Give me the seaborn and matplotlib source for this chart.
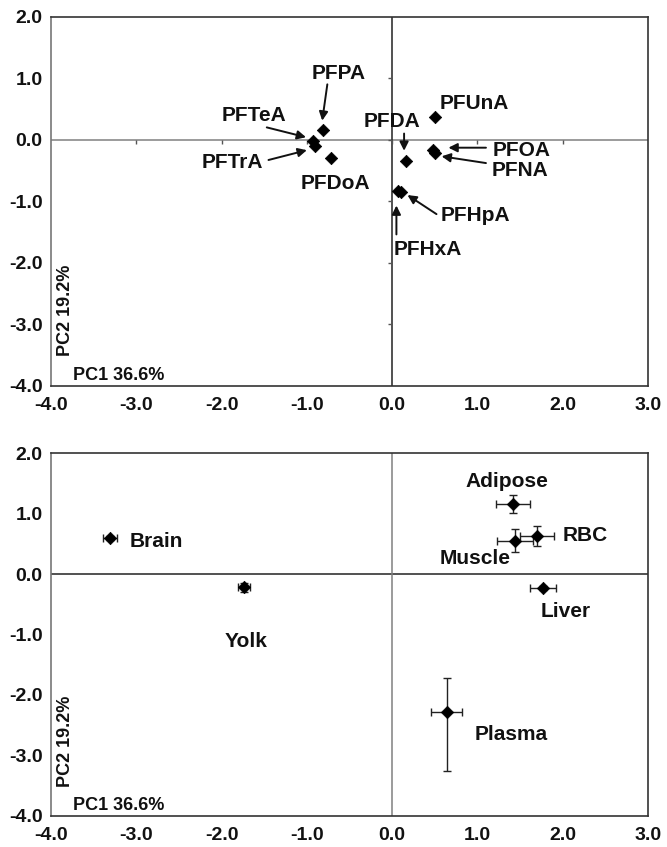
import matplotlib
matplotlib.use("Agg")
import matplotlib.pyplot as plt
import seaborn as sns
import pandas as pd
import numpy as np

# ---------------- data ----------------
pfas_names = ["PFPA", "PFTeA", "PFTrA", "PFDoA", "PFUnA", "PFDA", "PFOA", "PFNA", "PFHpA", "PFHxA"]
pfas_pc1 = [-0.81, -0.93, -0.90, -0.72, 0.50, 0.16, 0.48, 0.50, 0.10, 0.07]
pfas_pc2 = [0.16, -0.02, -0.10, -0.30, 0.37, -0.35, -0.17, -0.22, -0.85, -0.83]

# label centres and arrows (start -> tip) for the loading plot
pfas_label_x = [-0.63, -1.62, -1.87, -0.67, 0.96, 0.00, 1.52, 1.50, 0.98, 0.42]
pfas_label_y = [1.08, 0.40, -0.37, -0.72, 0.59, 0.29, -0.17, -0.50, -1.24, -1.78]
arrow_names = ["PFPA", "PFTeA", "PFTrA", "PFDA", "PFOA", "PFNA", "PFHpA", "PFHxA"]
arrow_x0 = [-0.76, -1.47, -1.45, 0.14, 1.10, 1.10, 0.52, 0.05]
arrow_y0 = [0.90, 0.20, -0.33, 0.10, -0.13, -0.38, -1.21, -1.54]
arrow_x1 = [-0.82, -1.01, -1.00, 0.14, 0.66, 0.58, 0.18, 0.05]
arrow_y1 = [0.31, 0.04, -0.17, -0.18, -0.13, -0.27, -0.90, -1.07]

tissues = ["Brain", "Yolk", "Adipose", "RBC", "Muscle", "Liver", "Plasma"]
tis_pc1 = [-3.31, -1.74, 1.42, 1.70, 1.44, 1.77, 0.64]
tis_pc2 = [0.60, -0.22, 1.16, 0.63, 0.55, -0.23, -2.29]
tis_xerr = [0.08, 0.07, 0.20, 0.20, 0.21, 0.15, 0.18]
tis_yerr_low = [0.03, 0.07, 0.15, 0.16, 0.19, 0.03, 0.97]
tis_yerr_high = [0.03, 0.07, 0.15, 0.16, 0.19, 0.03, 0.57]
tis_label_x = [-2.77, -1.71, 1.35, 2.27, 0.97, 2.03, 1.40]
tis_label_y = [0.54, -1.11, 1.53, 0.63, 0.26, -0.62, -2.65]

ticks_x = [-4.0, -3.0, -2.0, -1.0, 0.0, 1.0, 2.0, 3.0]
ticks_y = [-4.0, -3.0, -2.0, -1.0, 0.0, 1.0, 2.0]

# ---------------- style ----------------
sns.set_style("white")
plt.rcParams["font.family"] = ["Liberation Sans", "DejaVu Sans"]
plt.rcParams["font.weight"] = "bold"
plt.rcParams["axes.unicode_minus"] = False

fig = plt.figure(figsize=(6.67, 8.47), dpi=100)
ax1 = fig.add_axes([0.0765, 0.5446, 0.895, 0.4357])
ax2 = fig.add_axes([0.0765, 0.0370, 0.895, 0.4279])

LBL = 15
TCK = 14
TXT = "#111111"


def style_axes(ax, hcol, vcol, zero_ticks):
    ax.set_xlim(-4, 3)
    ax.set_ylim(-4, 2)
    ax.set_xticks(ticks_x)
    ax.set_yticks(ticks_y)
    ax.set_xticklabels([f"{t:.1f}" for t in ticks_x], fontsize=TCK, fontweight="bold")
    ax.set_yticklabels([f"{t:.1f}" for t in ticks_y], fontsize=TCK, fontweight="bold")
    ax.tick_params(axis="x", direction="out", length=3, width=1, pad=5, colors="#222222")
    ax.tick_params(axis="y", direction="out", length=3, width=1, pad=3, colors="#222222")
    ax.tick_params(labelcolor=TXT)
    for s in ["top", "right", "bottom"]:
        ax.spines[s].set_color("#333333")
        ax.spines[s].set_linewidth(1.2)
    ax.spines["left"].set_color("#777777")
    ax.spines["left"].set_linewidth(1.2)
    ax.axhline(0, color=hcol, lw=1.1, zorder=1)
    ax.axvline(0, color=vcol, lw=1.1, zorder=1)
    if zero_ticks:
        ax.plot(ticks_x[1:-1], [0] * (len(ticks_x) - 2), ls="", marker=3,
                ms=3, mew=1, color="#555555", zorder=1)
        ax.plot([0] * (len(ticks_y) - 2), ticks_y[1:-1], ls="", marker=0,
                ms=3, mew=1, color="#555555", zorder=1)
    ax.set_xlabel("")
    ax.set_ylabel("")
    ax.text(0.114, 0.029, "PC1 36.6%", transform=ax.transAxes, fontsize=13,
            fontweight="bold", ha="center", va="center", color=TXT)
    ax.text(0.025, 0.204, "PC2 19.2%", transform=ax.transAxes, fontsize=13,
            fontweight="bold", ha="center", va="center", rotation=90, color=TXT)


# ---------------- top: loadings ----------------
df_top = pd.DataFrame({"name": pfas_names, "PC1": pfas_pc1, "PC2": pfas_pc2})
sns.scatterplot(data=df_top, x="PC1", y="PC2", marker="D", color="black",
                edgecolor="black", s=40, ax=ax1, zorder=3)
style_axes(ax1, "#808080", "#222222", True)
for n, lx, ly in zip(pfas_names, pfas_label_x, pfas_label_y):
    ax1.text(lx, ly, n, fontsize=LBL, fontweight="bold", ha="center", va="center",
             color=TXT)
for x0, y0, x1, y1 in zip(arrow_x0, arrow_y0, arrow_x1, arrow_y1):
    ax1.annotate("", xy=(x1, y1), xytext=(x0, y0),
                 arrowprops=dict(arrowstyle="-|>", color="#111111", lw=1.4,
                                 mutation_scale=13, shrinkA=0, shrinkB=0))

# ---------------- bottom: scores ----------------
df_bot = pd.DataFrame({"tissue": tissues, "PC1": tis_pc1, "PC2": tis_pc2})
ax2.errorbar(tis_pc1, tis_pc2, xerr=tis_xerr,
             yerr=[tis_yerr_low, tis_yerr_high], fmt="none", ecolor="#222222",
             elinewidth=1, capsize=2.6, capthick=1, zorder=2)
sns.scatterplot(data=df_bot, x="PC1", y="PC2", marker="D", color="black",
                edgecolor="black", s=40, ax=ax2, zorder=3)
style_axes(ax2, "#222222", "#808080", False)
for n, lx, ly in zip(tissues, tis_label_x, tis_label_y):
    ax2.text(lx, ly, n, fontsize=LBL, fontweight="bold", ha="center", va="center",
             color=TXT)

fig.savefig("out.png", dpi=100, facecolor="white")
